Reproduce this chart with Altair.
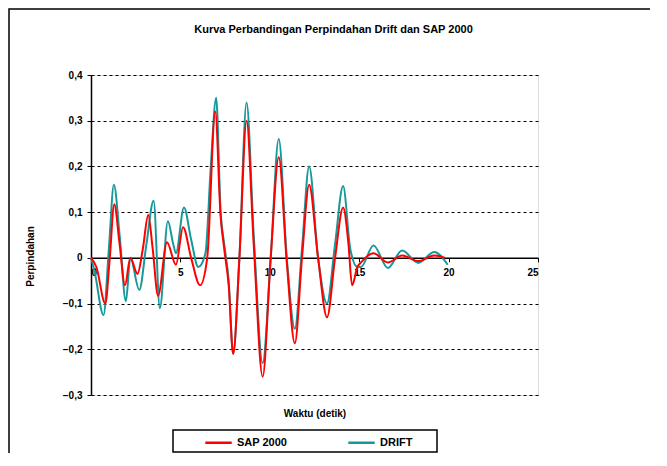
import altair as alt
import pandas as pd

# --- data ---
drift_t = [0, 0.2, 0.7, 1.0, 1.28, 1.6, 1.95, 2.2, 2.7, 3.1, 3.5, 3.85, 4.3, 4.6, 4.75,
           5.2, 5.6, 6.0, 6.4, 6.7, 7.0, 7.25, 7.45, 7.7, 7.95, 8.3, 8.7, 9.1, 9.6,
           10.05, 10.5, 10.95, 11.4, 11.8, 12.2, 12.7, 13.2, 13.65, 14.1, 14.5, 14.9,
           15.1, 15.8, 16.6, 17.4, 18.3, 19.2, 19.95]
drift_v = [0, -0.03, -0.125, 0.02, 0.16, 0.05, -0.095, 0.0, -0.07, 0.03, 0.125, -0.11,
           0.08, 0.03, 0.01, 0.11, 0.04, -0.02, 0.01, 0.2, 0.35, 0.1, 0.03, -0.05, -0.21,
           0.0, 0.34, 0.05, -0.23, 0.0, 0.26, 0.0, -0.155, 0.02, 0.2, 0.0, -0.1, 0.03,
           0.157, 0.02, -0.02, -0.02, 0.027, -0.022, 0.016, -0.011, 0.013, -0.015]

sap_t = [0, 0.3, 0.8, 1.05, 1.3, 1.6, 1.9, 2.2, 2.6, 2.9, 3.2, 3.45, 3.75, 4.25, 4.75,
         5.15, 5.6, 6.1, 6.5, 6.95, 7.25, 7.45, 7.7, 7.95, 8.3, 8.7, 9.1, 9.6, 10.05,
         10.5, 10.95, 11.4, 11.8, 12.2, 12.7, 13.2, 13.65, 14.1, 14.4, 14.6, 14.9, 15.1,
         15.8, 16.6, 17.4, 18.3, 19.2, 19.8]
sap_v = [0, -0.02, -0.1, 0.0, 0.117, 0.03, -0.06, 0.0, -0.035, 0.02, 0.094, 0.02, -0.083,
         0.034, -0.015, 0.067, 0.0, -0.06, 0.0, 0.32, 0.09, 0.02, -0.06, -0.21, 0.0, 0.3,
         0.03, -0.26, 0.0, 0.22, -0.01, -0.187, 0.0, 0.16, 0.0, -0.13, 0.0, 0.11, 0.03,
         -0.06, -0.02, -0.01, 0.01, -0.01, 0.005, -0.007, 0.005, 0.0]

series_names = ["SAP 2000", "DRIFT"]
series_colors = ["#ff0000", "#17999a"]
x_ticks = [0, 5, 10, 15, 20, 25]
y_ticks = [-0.3, -0.2, -0.1, 0, 0.1, 0.2, 0.3, 0.4]

title_text = "Kurva Perbandingan Perpindahan Drift dan SAP 2000"
x_title = "Waktu (detik)"
y_title = "Perpindahan"

df_sap = pd.DataFrame({"t": sap_t, "v": sap_v, "series": "SAP 2000"})
df_drift = pd.DataFrame({"t": drift_t, "v": drift_v, "series": "DRIFT"})

W, H = 447, 320
FONT = "Liberation Sans"
zero_offset = -(H - H * 0.4 / 0.7)

x_enc = alt.X("t:Q", scale=alt.Scale(domain=[0, 25], nice=False),
              axis=alt.Axis(values=x_ticks, title=x_title, offset=zero_offset,
                            grid=False, domainColor="black", domainWidth=1.5,
                            tickColor="black", tickSize=4, labelPadding=6,
                            labelFont=FONT, labelFontSize=10, labelFontWeight="bold",
                            labelColor="black", titleFont=FONT, titleFontSize=10,
                            titleFontWeight="bold", titleColor="black",
                            titleY=156, titleBaseline="middle"))
y_enc = alt.Y("v:Q", scale=alt.Scale(domain=[-0.3, 0.4], nice=False, zero=False),
              axis=alt.Axis(values=y_ticks, title=y_title,
                            labelExpr="datum.value == 0 ? '0' : replace(format(datum.value, '.1f'), '.', ',')",
                            grid=True, gridColor="black", gridDash=[3, 3], gridWidth=1,
                            domainColor="black", domainWidth=1.5, tickColor="black",
                            tickSize=4, labelPadding=5, labelFont=FONT, labelFontSize=10,
                            labelFontWeight="bold", labelColor="black", titleFont=FONT,
                            titleFontSize=10, titleFontWeight="bold", titleColor="black",
                            titleX=-61, titleY=181, titleAngle=-90, titleBaseline="middle"))
color_enc = alt.Color("series:N",
                      scale=alt.Scale(domain=series_names, range=series_colors),
                      legend=alt.Legend(title=None, orient="none", direction="horizontal",
                                        legendX=109, legendY=349, symbolType="stroke",
                                        symbolSize=700, symbolStrokeWidth=2.5,
                                        labelFont=FONT, labelFontSize=11,
                                        labelFontWeight="bold", labelColor="black",
                                        columnPadding=55, padding=4))

drift_line = alt.Chart(df_drift).mark_line(strokeWidth=2, interpolate="monotone").encode(
    x=x_enc, y=y_enc, color=color_enc)
sap_line = alt.Chart(df_sap).mark_line(strokeWidth=2, interpolate="monotone").encode(
    x=x_enc, y=y_enc, color=color_enc)

one = pd.DataFrame({"a": [0]})
frame = alt.Chart(one).mark_rect(fill="white", fillOpacity=0, stroke="black",
                                 strokeWidth=1.5).encode(
    x=alt.value(-82), x2=alt.value(620), y=alt.value(-66), y2=alt.value(420))
legend_box = alt.Chart(one).mark_rect(fill="white", fillOpacity=0, stroke="black",
                                      strokeWidth=1.5).encode(
    x=alt.value(82), x2=alt.value(346), y=alt.value(355), y2=alt.value(377))

chart = alt.layer(frame, legend_box, drift_line, sap_line).properties(
    width=W, height=H,
    title=alt.TitleParams(title_text, font=FONT, fontSize=11, fontWeight="bold",
                          color="black", anchor="middle", frame="group", dx=19,
                          offset=-27),
    autosize=alt.AutoSizeParams(type="none"),
    padding={"left": 83, "top": 67, "right": 112, "bottom": 58},
).configure_view(stroke="black", strokeDash=[1, 3], strokeWidth=1).configure(
    background="white")

chart.save("out.html", embed_options={"renderer": "svg", "actions": False})
